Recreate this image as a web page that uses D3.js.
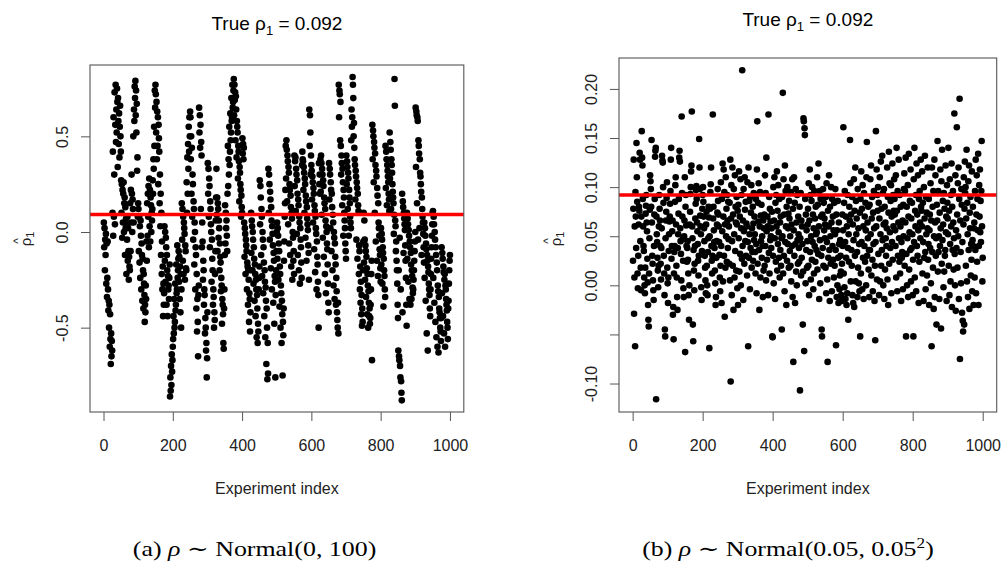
<!DOCTYPE html>
<html><head><meta charset="utf-8">
<script src="https://cdn.jsdelivr.net/npm/d3@7"></script>
<style>body{margin:0;background:#fff}svg{display:block}</style>
</head><body>
<svg id="c" width="1005" height="563"></svg>
<script>
// ---------- data ----------
const trueRho = 0.092;
const xTicks = [0, 200, 400, 600, 800, 1000];
const leftYTicks = [-0.5, 0, 0.5];
const rightYTicks = [-0.10, -0.05, 0, 0.05, 0.10, 0.15, 0.20];
const rightYTickLabels = ["-0.10", "", "0.00", "0.05", "0.10", "0.15", "0.20"];
const titles = ["True \u03c1", "True \u03c1"];
const captions = ["(a)", "(b)"];

// panel (a): rho-hat_1 for experiments 1..1000, in hundredths
const rhoHatA100 = [
5,-8,2,-20,-4,-12,-1,-27,-6,-34,-24,-5,-30,-41,-36,-50,-38,-60,-43,-56,-69,-53,-65,-57,-62,
10,42,-2,60,8,30,73,4,56,77,47,64,52,75,68,34,70,58,46,62,39,55,66,50,42,
27,10,25,-3,22,5,20,26,0,15,18,-12,13,2,7,-22,4,-4,8,-15,2,-10,-25,-13,-18,
-20,15,-10,22,5,30,20,0,17,12,50,5,64,58,76,70,79,61,74,52,67,32,39,8,15,
12,-10,8,-16,3,-24,6,-2,-30,-6,-12,-36,-14,-20,-40,-22,-27,-33,-47,-38,-42,-28,-35,-5,-15,
15,-2,20,8,24,-8,28,3,22,-5,18,14,0,10,6,12,27,20,38,33,55,45,74,65,77,
72,52,68,38,63,45,60,25,56,49,42,15,30,3,20,-12,10,-22,-5,-30,-18,-44,-27,-38,-32,
3,-15,0,-26,-3,-8,-38,-12,-20,-44,-23,-30,-28,-35,-24,-17,-86,-76,-83,-70,-80,-64,-73,-67,-60,
-56,-44,-53,-35,-50,-47,-27,-41,-38,-17,-32,-30,-7,-24,-20,-14,-10,-26,-13,-35,-18,-42,-22,-50,-30,
15,-4,12,-15,8,-22,5,2,-1,-25,-7,-10,-19,-20,26,10,39,20,46,33,55,42,60,50,63,
60,38,50,20,44,8,30,25,-4,16,12,-17,5,0,-30,-8,-12,-40,-22,-52,-35,-47,-65,-33,-28,
65,52,61,44,56,12,47,40,-8,5,-5,-25,-15,-20,-38,-30,-33,-53,-45,-50,-62,-58,-76,-66,-42,
36,20,33,8,28,24,-8,16,12,4,0,-26,-4,-14,-20,-38,-30,-34,-50,-42,-46,-22,-10,6,18,
33,9,18,-10,15,12,-3,6,2,-20,-6,-13,-16,-31,-24,-28,-48,-35,-38,-43,-58,-61,-40,-30,-12,
14,-6,10,2,6,-2,-10,20,45,24,38,30,55,35,42,62,48,52,70,58,60,77,65,68,74,
80,61,77,69,73,48,71,64,39,58,55,52,28,45,42,37,16,34,31,25,22,8,19,13,10,
49,41,46,38,44,5,-13,2,-1,-22,-4,-7,-10,-30,-16,-18,-38,-20,-25,-47,-32,-35,-52,-42,-20,
10,-11,6,3,-20,0,-4,-27,-8,-14,-36,-17,-22,-44,-25,-30,-55,-33,-40,-58,-48,-52,-30,-24,-18,
27,4,24,18,-12,12,8,-23,0,-4,-32,-8,-16,-44,-20,-26,-55,-29,-36,-69,-40,-50,-77,-58,-74,
33,10,30,25,-4,21,17,-19,13,6,-30,3,-1,-7,-37,-11,-15,-48,-23,-26,-76,-33,-20,-10,0,
5,-14,2,-2,-25,-6,-10,-39,-18,-22,-50,-28,-32,-58,-36,-43,-75,-47,-54,-40,-15,-5,8,15,22,
45,28,48,43,16,40,37,4,34,31,-6,25,22,-12,19,13,-18,10,7,-25,0,-3,-15,-10,-22,
40,24,37,39,11,33,30,-1,27,20,-12,17,14,-20,8,5,-27,2,-4,-8,-16,-24,35,42,38,
37,22,34,31,10,28,25,-3,19,16,-15,13,7,4,1,-7,-11,-25,64,45,61,52,30,40,35,
32,17,29,26,5,23,20,-9,14,11,-21,8,2,-1,-30,-5,-13,-17,-26,-33,-50,36,25,30,20,
38,21,40,36,9,33,30,-3,27,24,-13,18,15,-22,12,6,-32,3,0,-6,-9,-17,-27,-37,-42,
36,17,33,30,2,26,22,-10,20,13,-20,9,5,-28,0,-3,-35,-6,-13,-17,-38,-24,-31,-42,-46,
-50,-37,-53,77,60,74,72,48,68,45,30,40,36,14,33,26,-2,22,18,10,6,2,-6,-10,-14,
40,25,37,34,12,31,28,-2,22,18,15,8,5,2,48,64,55,60,81,77,70,50,57,44,38,
35,17,32,29,-4,26,23,-14,20,14,11,-22,-7,-10,-30,-18,-37,-26,-43,-33,-49,-40,-47,-20,-5,
10,-16,6,-4,-25,-7,-10,-34,-13,-19,-43,-22,-28,-50,-31,-37,-44,-40,-48,-45,-38,-30,-22,-15,-67,
56,38,53,50,26,47,44,10,41,35,-5,32,29,-15,23,19,-23,15,5,2,-2,-9,-12,-19,-26,
2,-17,-1,-4,-27,-8,-11,-39,-14,-20,-23,-30,-34,45,23,42,38,14,35,32,29,26,20,17,11,
52,28,47,43,12,38,35,31,25,21,18,15,-1,9,80,66,6,3,-10,-5,-15,-20,-27,-38,-45,
-62,-20,-65,-67,-3,-70,-76,-30,-78,-84,-88,20,-42,16,13,-11,10,7,4,1,-7,-15,-24,-38,-49,
10,-14,7,4,-26,1,-2,-35,-5,-8,-38,-11,-17,-35,-20,-23,-29,-32,-30,-25,-20,-15,-10,-5,0,
65,34,63,61,15,60,58,-4,48,45,41,2,38,31,29,25,21,-12,18,12,8,5,-1,-8,-16,
5,-24,2,-2,-36,-6,-9,-53,-12,-15,-62,-18,-21,-27,-30,-33,-40,-44,-30,-22,-14,-8,-2,4,10,
11,-24,8,4,-37,0,-4,-47,-8,-12,-55,-16,-20,-60,-28,-31,-63,-34,-40,-42,-45,-50,-52,-57,-45,
-8,-32,-11,-14,-44,-18,-21,-53,-25,-22,-60,-28,-30,-35,-38,-41,-47,-50,-56,-40,-36,-27,-20,-15,-12
];

// panel (b): rho-hat_1 for experiments 1..1000, in thousandths
const rhoHatB1000 = [
25,78,128,-29,8,60,-62,95,70,38,145,110,85,12,-3,30,62,80,76,135,128,45,18,-5,70,
157,130,122,88,60,40,35,8,0,-8,18,73,81,92,64,55,27,3,-20,-35,-42,12,48,77,112,
106,98,80,148,64,30,22,5,-5,-15,40,72,88,131,137,140,-116,70,52,44,28,15,-2,20,60,
92,78,66,40,22,6,38,58,132,127,125,100,84,30,12,-10,-45,-52,48,66,75,89,105,18,2,
-18,8,35,52,65,70,83,96,128,140,27,40,55,66,-30,-22,-55,12,34,40,85,102,110,62,20,
8,-12,-25,38,52,73,88,130,137,126,58,45,32,5,172,94,70,47,25,-3,-12,50,66,110,-68,
80,92,61,40,24,38,45,26,12,-10,-35,0,62,75,93,100,116,122,177,60,48,-40,-57,36,15,
-5,22,40,68,83,97,101,88,64,55,42,25,10,30,149,120,98,71,60,52,-2,-15,35,78,92,
100,85,70,58,45,30,18,5,-8,62,75,20,0,-10,34,48,80,69,-64,50,78,95,103,120,40,
25,12,30,174,68,80,56,44,38,15,2,-20,-12,28,45,62,74,98,86,72,60,44,31,8,-6,
20,105,40,-18,88,55,124,4,70,118,30,95,-32,62,18,110,50,78,24,92,66,38,85,47,60,
22,84,5,128,-98,68,102,-10,45,120,20,72,-25,98,52,8,112,35,80,64,15,90,62,-3,76,
-20,82,48,116,14,70,32,108,0,58,92,27,219,40,66,-15,98,55,22,110,77,45,85,30,63,
60,10,105,44,-62,120,28,86,52,-4,90,38,74,102,18,58,34,80,25,63,94,46,70,52,34,
12,88,42,-8,118,167,22,84,65,104,36,-25,60,95,8,71,45,82,28,50,40,-12,66,15,58,
72,20,112,40,94,5,130,55,26,70,60,-10,174,33,90,12,78,46,65,50,38,58,75,-52,-53,
30,100,2,66,110,48,-14,84,24,92,60,116,15,76,42,102,54,28,88,8,64,36,70,20,48,
-45,90,50,196,12,108,30,72,-6,122,44,96,60,-20,80,25,100,42,58,73,18,86,68,35,50,
20,95,4,62,40,108,-12,78,-78,56,110,30,84,-18,42,98,14,64,0,92,46,22,70,52,38,
24,80,-107,48,94,10,66,28,60,42,-40,14,170,167,-67,160,153,88,2,72,36,56,18,45,62,
78,20,104,-10,66,118,34,92,6,50,86,26,100,44,72,-4,58,12,96,40,68,24,80,52,36,
54,110,16,82,32,124,60,-14,96,46,2,88,70,30,-45,-52,72,38,98,20,84,56,68,48,62,
18,90,-8,104,44,6,-78,76,28,60,112,36,-16,80,50,22,100,64,-6,88,40,70,26,56,8,
84,20,52,98,36,-61,72,-12,56,0,86,28,-18,64,42,-4,10,46,30,14,-10,-16,22,72,40,
56,161,12,84,-2,96,44,-14,70,28,-20,60,-8,92,38,-35,52,24,80,66,148,104,4,72,36,
20,90,-10,62,-18,46,108,-22,76,30,120,4,86,52,68,34,-12,98,18,58,2,42,-6,74,-52,
88,12,116,44,78,-4,102,28,60,-14,94,40,70,24,84,56,0,110,146,30,64,48,80,16,36,
-12,82,36,108,52,122,10,68,90,26,-6,74,42,96,58,-16,20,-56,44,157,60,118,6,92,76,
100,32,84,-10,68,110,4,52,126,20,78,36,132,46,94,0,62,98,-14,80,16,64,48,30,40,
58,120,6,90,-20,74,136,22,104,54,38,86,102,-8,70,44,124,26,92,60,76,108,88,72,56,
40,112,8,140,76,-6,96,30,64,128,48,24,92,12,60,80,-16,44,28,34,66,-4,82,50,98,
114,20,96,64,130,-52,32,80,0,48,102,-12,70,134,16,54,86,36,118,4,68,38,84,52,-10,
26,-52,108,44,140,8,76,60,92,-6,124,40,72,30,112,56,-18,88,24,96,64,48,128,80,76,
60,116,12,84,44,-16,100,28,68,132,34,-4,90,52,74,10,58,120,26,42,88,-20,56,72,38,
104,2,66,-62,120,34,80,18,96,-24,50,128,-12,64,112,30,48,-40,82,66,147,14,96,34,50,
-14,74,40,118,58,-44,106,22,138,46,86,62,-2,94,14,78,30,36,122,54,70,-16,102,84,68,
52,140,20,76,-10,108,42,4,92,60,124,-22,80,36,96,64,16,48,175,32,0,112,-26,56,38,
161,72,18,104,50,120,-14,88,190,-75,66,34,2,98,82,-28,44,-36,-47,62,110,-40,78,126,94,
100,20,68,138,4,84,52,-12,106,36,122,-24,74,58,90,10,42,26,116,-6,46,80,40,-20,58,
64,8,96,36,128,-8,72,112,24,88,56,134,-20,40,102,70,118,54,86,44,96,147,60,4,28
];

// ---------- drawing ----------
const svg = d3.select("#c");
const sans = "'Liberation Sans', Arial, Helvetica, sans-serif";
const serif = "'Liberation Serif', 'DejaVu Serif', serif";
const lineCol = "#555";
const txtCol = "#222";

const panels = [
  { vals: rhoHatA100.map(v => v / 100), left: 90, right: 463.8, top: 65, bottom: 412,
    ydom: [-0.941, 0.873], yticks: leftYTicks, ylabels: leftYTicks.map(d => d.toFixed(1)),
    titleY: 29.5, ylabX: 25, capX: 254.6, capW: 243.5 },
  { vals: rhoHatB1000.map(v => v / 1000), left: 619, right: 996.7, top: 58, bottom: 412,
    ydom: [-0.129, 0.2315], yticks: rightYTicks, ylabels: rightYTickLabels,
    titleY: 26, ylabX: 555, capX: 788, capW: 291.5 }
];

panels.forEach((p, pi) => {
  const x = d3.scaleLinear().domain([-39, 1040]).range([p.left, p.right]);
  const y = d3.scaleLinear().domain(p.ydom).range([p.bottom, p.top]);
  const g = svg.append("g");

  g.append("g").selectAll("circle").data(p.vals).join("circle")
    .attr("cx", (d, i) => x(i + 1)).attr("cy", d => y(d))
    .attr("r", 3.3).attr("fill", "#000");

  g.append("line").attr("x1", p.left).attr("x2", p.right)
    .attr("y1", y(trueRho)).attr("y2", y(trueRho))
    .attr("stroke", "#ff0000").attr("stroke-width", 3.5);

  g.append("rect").attr("x", p.left).attr("y", p.top)
    .attr("width", p.right - p.left).attr("height", p.bottom - p.top)
    .attr("fill", "none").attr("stroke", lineCol).attr("stroke-width", 1.1);

  const xa = g.append("g").attr("transform", `translate(0,${p.bottom})`)
    .call(d3.axisBottom(x).tickValues(xTicks).tickSize(9).tickPadding(18.5).tickFormat(d3.format("d")));
  xa.select(".domain").remove();
  xa.selectAll("line").attr("stroke", lineCol);
  xa.selectAll("text").attr("font-family", sans).attr("font-size", 16).attr("fill", txtCol);

  const ya = g.append("g").attr("transform", `translate(${p.left},0)`)
    .call(d3.axisLeft(y).tickValues(p.yticks).tickSize(9).tickFormat(""));
  ya.select(".domain").remove();
  ya.selectAll("line").attr("stroke", lineCol);
  ya.selectAll(".tick").each(function (d, i) {
    d3.select(this).append("text")
      .attr("transform", "translate(-28,0) rotate(-90)")
      .attr("text-anchor", "middle").attr("dy", "0.36em")
      .attr("font-family", sans).attr("font-size", 16).attr("fill", txtCol)
      .text(p.ylabels[i]);
  });

  const cx = (p.left + p.right) / 2;
  const t = g.append("text").attr("x", cx).attr("y", p.titleY)
    .attr("text-anchor", "middle").attr("font-family", sans).attr("font-size", 19).attr("fill", "#000");
  t.append("tspan").text(titles[pi]);
  t.append("tspan").attr("font-size", 13).attr("dy", 5).text("1");
  t.append("tspan").attr("dy", -5).text(" = " + trueRho.toFixed(3));

  g.append("text").attr("x", cx).attr("y", 494).attr("text-anchor", "middle")
    .attr("font-family", sans).attr("font-size", 16).attr("fill", txtCol).text("Experiment index");

  const yl = g.append("g").attr("transform", `translate(${p.ylabX},236) rotate(-90)`);
  const ylt = yl.append("text").attr("x", -3).attr("y", 6).attr("text-anchor", "middle")
    .attr("font-family", sans).attr("font-size", 15).attr("fill", txtCol);
  ylt.append("tspan").text("\u03c1");
  ylt.append("tspan").attr("font-size", 11).attr("dy", 3).text("1");
  yl.append("text").attr("x", -5).attr("y", -3).attr("text-anchor", "middle")
    .attr("font-family", sans).attr("font-size", 12).attr("fill", txtCol).text("^");

  const c = svg.append("text").attr("x", p.capX).attr("y", 556).attr("text-anchor", "middle")
    .attr("font-family", serif).attr("font-size", 21).attr("fill", "#000")
    .attr("textLength", p.capW).attr("lengthAdjust", "spacingAndGlyphs");
  c.append("tspan").text(captions[pi] + " ");
  c.append("tspan").attr("font-style", "italic").text("\u03c1");
  c.append("tspan").text(" \u223c Normal(");
  if (pi === 0) {
    c.append("tspan").text("0, 100)");
  } else {
    c.append("tspan").text("0.05, 0.05");
    c.append("tspan").attr("font-size", 14).attr("dy", -8).text("2");
    c.append("tspan").attr("dy", 8).text(")");
  }
});
</script>
</body></html>
